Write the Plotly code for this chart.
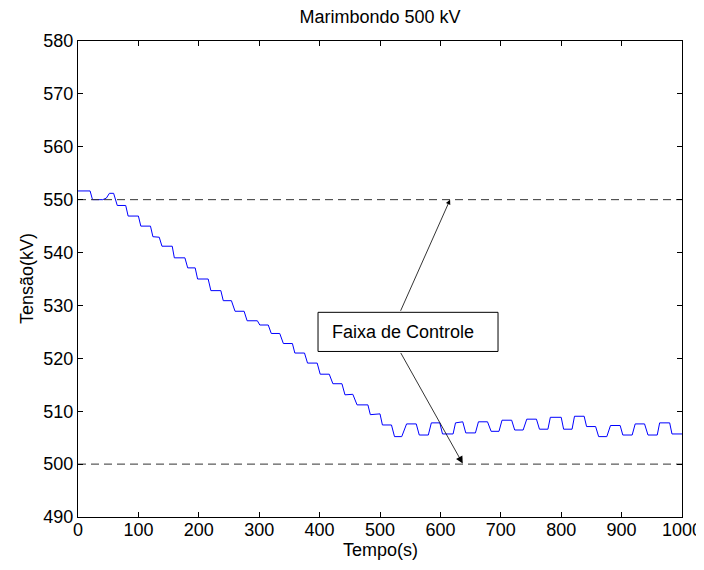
import plotly.graph_objects as go

# Vertices of the voltage trace (time in s, voltage in kV)
tempo = [
    0, 20, 24, 41, 47, 52, 59, 65, 79, 83,
    100, 104, 120, 124, 134.5, 139, 156, 159.5, 177, 181.6,
    194, 198, 215.5, 220, 236.5, 240.5, 254, 260, 275, 280,
    297, 301, 315, 320, 334, 340, 355, 359, 375, 380,
    396, 401, 416, 422, 437, 442, 455, 462, 480, 484,
    500, 504, 519, 524, 536, 544, 560, 565, 580, 585,
    599, 603.5, 621, 625, 637, 642, 658, 663, 678, 684,
    697, 702, 718, 723, 737, 743, 759, 764, 778, 782,
    800, 804, 818, 822, 838, 842, 857, 862, 875.5, 881.6,
    897.6, 902, 917.5, 922.5, 938, 943.7, 959, 963, 979.6, 983.4,
    1000,
]
tensao = [
    551.65, 551.65, 550.0, 550.0, 550.3, 551.2, 551.2, 548.9, 548.9, 546.9,
    546.9, 545.0, 545.0, 543.0, 542.9, 541.2, 541.2, 539.0, 539.0, 537.1,
    537.1, 535.0, 535.0, 532.8, 532.8, 530.9, 530.9, 528.9, 528.9, 527.1,
    527.1, 526.3, 526.3, 524.7, 524.7, 522.8, 522.8, 521.0, 521.0, 519.1,
    519.1, 517.0, 517.0, 515.2, 515.2, 513.1, 513.2, 511.2, 511.2, 509.35,
    509.5, 507.4, 507.4, 505.2, 505.2, 507.6, 507.6, 505.5, 505.5, 507.8,
    507.8, 505.7, 505.7, 507.8, 508.0, 505.9, 505.9, 508.0, 508.0, 506.2,
    506.2, 508.3, 508.3, 506.45, 506.45, 508.5, 508.5, 506.6, 506.6, 508.85,
    508.85, 506.6, 506.6, 509.05, 509.05, 507.1, 507.1, 505.2, 505.2, 507.3,
    507.3, 505.5, 505.5, 507.6, 507.6, 505.5, 505.5, 507.8, 507.8, 505.7,
    505.7,
]

limite_superior = 550
limite_inferior = 500
x_ticks = [0, 100, 200, 300, 400, 500, 600, 700, 800, 900, 1000]
y_ticks = [490, 500, 510, 520, 530, 540, 550, 560, 570, 580]

FONT = "Liberation Sans, Arial, sans-serif"
FS = 18

# page body has an 8px margin, so the figure is drawn 8px smaller and offset
W, H = 696, 562
L, T, R, B = 70, 33, 22, 53
PW, PH = W - L - R, H - T - B

fig = go.Figure()
fig.add_trace(go.Scatter(x=tempo, y=tensao, mode="lines",
                         line=dict(color="#0000ff", width=1), showlegend=False))
for lim in (limite_superior, limite_inferior):
    fig.add_trace(go.Scatter(x=[0, 1000], y=[lim, lim], mode="lines",
                             line=dict(color="#333333", width=1, dash="8px,5px"),
                             showlegend=False))

# annotation box
fig.add_shape(type="rect", xref="x", yref="y", x0=397.4, x1=695.4, y0=521.3, y1=528.7,
              line=dict(color="black", width=1), fillcolor="white", layer="above")
fig.add_annotation(x=417, y=525.0, xref="x", yref="y", text="Faixa de Controle",
                   showarrow=False, xanchor="left", yanchor="middle",
                   font=dict(family=FONT, size=FS, color="black"))
# arrows
fig.add_annotation(x=616, y=550, ax=533, ay=528.7, xref="x", yref="y",
                   axref="x", ayref="y", text="", showarrow=True,
                   arrowhead=2, arrowsize=1.2, arrowwidth=0.8, arrowcolor="black")
fig.add_annotation(x=637, y=500.1, ax=533, ay=521.3, xref="x", yref="y",
                   axref="x", ayref="y", text="", showarrow=True,
                   arrowhead=2, arrowsize=1.8, arrowwidth=0.8, arrowcolor="black")

# axis titles
fig.add_annotation(x=0.5, y=-(550 - 517) / PH, xref="paper", yref="paper", text="Tempo(s)",
                   showarrow=False, xanchor="center", yanchor="middle",
                   font=dict(family=FONT, size=FS, color="black"))
fig.add_annotation(x=-(78 - 27) / PW, y=0.5, xref="paper", yref="paper", text="Tensão(kV)",
                   showarrow=False, xanchor="center", yanchor="middle", textangle=-90,
                   font=dict(family=FONT, size=FS, color="black"))

axis_common = dict(showgrid=False, zeroline=False, showline=True, linecolor="black",
                   linewidth=1, mirror="ticks", ticks="inside", ticklen=5,
                   tickcolor="black", automargin=False,
                   tickfont=dict(family=FONT, size=FS, color="black"))
fig.update_xaxes(range=[0, 1000], tickvals=x_ticks, ticktext=[str(v) for v in x_ticks],
                 ticklabelstandoff=-4, **axis_common)
fig.update_yaxes(range=[490, 580], tickvals=y_ticks, ticktext=[str(v) for v in y_ticks],
                 ticklabelstandoff=0, **axis_common)

fig.update_layout(
    width=W, height=H,
    margin=dict(l=L, r=R, t=T, b=B),
    paper_bgcolor="white", plot_bgcolor="white",
    title=dict(text="Marimbondo 500 kV", x=(380 - 8) / W, xanchor="center",
               y=1 - 9 / H, yanchor="middle",
               font=dict(family=FONT, size=FS, color="black")),
    font=dict(family=FONT),
)

fig.write_html("out.html")
